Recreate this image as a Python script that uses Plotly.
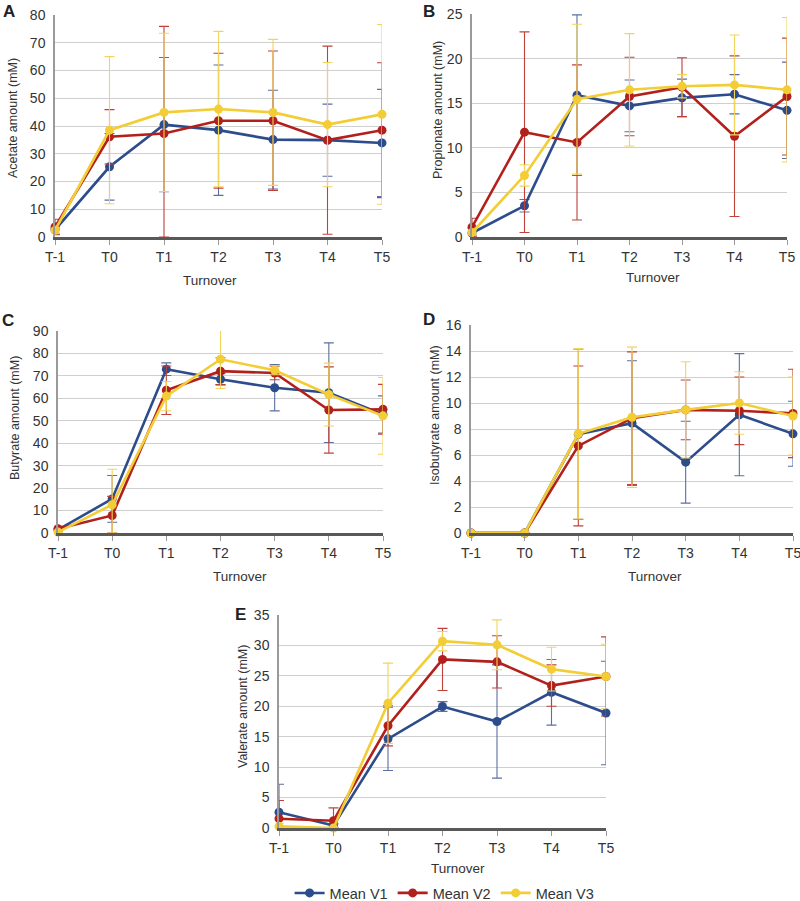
import plotly.graph_objects as go

cats = ["T-1", "T0", "T1", "T2", "T3", "T4", "T5"]
series_names = ["Mean V1", "Mean V2", "Mean V3"]

acetate_v1 = [2.6, 25.3, 40.5, 38.5, 35.1, 34.9, 33.9]
acetate_v2 = [3.6, 36.1, 37.3, 41.9, 41.9, 34.9, 38.5]
acetate_v3 = [2.4, 38.5, 44.9, 46.1, 44.9, 40.5, 44.2]
acetate_v1_err = [1.5, 12.0, 24.2, 23.5, 17.8, 13.0, 19.3]
acetate_v2_err = [2.8, 9.8, 38.6, 24.3, 25.1, 33.9, 24.3]
acetate_v3_err = [1.0, 26.5, 28.5, 28.0, 26.3, 22.4, 32.4]

propionate_v1 = [0.45, 3.5, 15.9, 14.7, 15.6, 16.0, 14.2]
propionate_v2 = [1.1, 11.75, 10.6, 15.75, 16.8, 11.3, 15.75]
propionate_v3 = [0.5, 6.9, 15.45, 16.5, 16.9, 17.05, 16.5]
propionate_v1_err = [0.3, 0.7, 9.0, 2.9, 2.1, 2.2, 5.4]
propionate_v2_err = [1.0, 11.25, 8.7, 4.4, 3.3, 9.0, 6.55]
propionate_v3_err = [0.3, 1.2, 8.4, 6.3, 1.3, 5.6, 8.1]

butyrate_v1 = [1.5, 15.2, 73.0, 68.5, 64.7, 62.5, 52.8]
butyrate_v2 = [1.9, 7.8, 63.6, 72.1, 71.3, 54.8, 55.1]
butyrate_v3 = [0.4, 12.6, 61.0, 77.4, 72.5, 61.7, 52.2]
butyrate_v1_err = [0.8, 10.4, 2.8, 2.5, 10.3, 22.2, 8.3]
butyrate_v2_err = [1.1, 8.5, 10.8, 6.0, 3.0, 19.2, 11.1]
butyrate_v3_err = [0.5, 15.8, 6.5, 13.0, 2.0, 14.0, 17.1]

isobutyrate_v1 = [0, 0, 7.6, 8.45, 5.45, 9.1, 7.63]
isobutyrate_v2 = [0, 0, 6.7, 8.83, 9.47, 9.4, 9.2]
isobutyrate_v3 = [0, 0, 7.63, 8.9, 9.47, 10.0, 9.0]
isobutyrate_v1_err = [0, 0, 6.55, 4.8, 3.15, 4.7, 2.5]
isobutyrate_v2_err = [0, 0, 6.15, 5.1, 2.3, 2.6, 3.4]
isobutyrate_v3_err = [0, 0, 6.55, 5.4, 3.7, 2.4, 3.0]

valerate_v1 = [2.6, 0.4, 14.65, 19.96, 17.5, 22.3, 18.9]
valerate_v2 = [1.53, 1.2, 16.8, 27.7, 27.3, 23.4, 24.9]
valerate_v3 = [0.27, 0.0, 20.5, 30.7, 30.1, 26.1, 24.9]
valerate_v1_err = [4.6, 0.3, 5.2, 0.8, 9.3, 5.4, 8.5]
valerate_v2_err = [3.0, 2.1, 3.3, 5.1, 4.3, 3.4, 6.5]
valerate_v3_err = [0.5, 0.0, 6.6, 1.6, 4.1, 3.6, 5.3]

line_colors = ["#2C4C8C", "#B2201C", "#F3CD35"]
err_colors = ["#5B6FA3", "#C0413A", "#F2D45C"]

W, H = 800, 901

panels = [
    dict(letter="A", title="Acetate amount (mM)", ymax=80, dtick=10,
         data=[(acetate_v1, acetate_v1_err), (acetate_v2, acetate_v2_err), (acetate_v3, acetate_v3_err)],
         px=(55, 382), py=(15, 237), letter_pos=(9, 11), ytitle_pos=(13, 118), xtitle_pos=(210, 280)),
    dict(letter="B", title="Propionate amount (mM)", ymax=25, dtick=5,
         data=[(propionate_v1, propionate_v1_err), (propionate_v2, propionate_v2_err), (propionate_v3, propionate_v3_err)],
         px=(472, 787), py=(14, 237), letter_pos=(429, 11), ytitle_pos=(438, 110), xtitle_pos=(653, 277)),
    dict(letter="C", title="Butyrate amount (mM)", ymax=90, dtick=10,
         data=[(butyrate_v1, butyrate_v1_err), (butyrate_v2, butyrate_v2_err), (butyrate_v3, butyrate_v3_err)],
         px=(58, 383), py=(331, 533), letter_pos=(8, 320), ytitle_pos=(15, 418), xtitle_pos=(240, 576)),
    dict(letter="D", title="Isobutyrate amount (mM)", ymax=16, dtick=2,
         data=[(isobutyrate_v1, isobutyrate_v1_err), (isobutyrate_v2, isobutyrate_v2_err), (isobutyrate_v3, isobutyrate_v3_err)],
         px=(471, 793), py=(325, 533), letter_pos=(429, 319), ytitle_pos=(435, 415), xtitle_pos=(655, 576)),
    dict(letter="E", title="Valerate amount (mM)", ymax=35, dtick=5,
         data=[(valerate_v1, valerate_v1_err), (valerate_v2, valerate_v2_err), (valerate_v3, valerate_v3_err)],
         px=(279, 606), py=(615, 828), letter_pos=(240, 614), ytitle_pos=(243, 707), xtitle_pos=(458, 868)),
]

fig = go.Figure()
annotations = []
layout_axes = {}
FONT = "Liberation Sans, Arial, sans-serif"

for i, p in enumerate(panels):
    n = "" if i == 0 else str(i + 1)
    xa, ya = "x" + n, "y" + n
    for k, (vals, errs) in enumerate(p["data"]):
        minus = [min(e, v) for v, e in zip(vals, errs)]
        fig.add_trace(go.Scatter(
            x=cats, y=vals, xaxis=xa, yaxis=ya, mode="lines+markers",
            name=series_names[k], showlegend=(i == 0), legendgroup=series_names[k],
            line=dict(color=line_colors[k], width=2.6),
            marker=dict(color=line_colors[k], size=9, line=dict(width=0)),
            error_y=dict(type="data", symmetric=False, array=errs, arrayminus=minus,
                         color=err_colors[k], thickness=1.1, width=5),
            cliponaxis=False,
        ))
    x0, x1 = p["px"]
    yt, yb = p["py"]
    layout_axes["xaxis" + n] = dict(
        domain=[x0 / W, x1 / W], anchor=ya, type="category", categoryarray=cats,
        range=[0, 6], showgrid=False, showline=True, linecolor="#595959", linewidth=2.5,
        ticks="outside", ticklen=5, tickcolor="#9a9a9a", tickwidth=1, automargin=False,
        tickfont=dict(size=14, color="#333333", family=FONT), zeroline=False, fixedrange=True,
    )
    layout_axes["yaxis" + n] = dict(
        domain=[1 - yb / H, 1 - yt / H], anchor=xa, range=[0, p["ymax"]], dtick=p["dtick"],
        tick0=0, showgrid=True, gridcolor="#cfcfcf", gridwidth=1, showline=True,
        linecolor="#9a9a9a", linewidth=1.5, ticks="", zeroline=False, automargin=False,
        tickfont=dict(size=14, color="#333333", family=FONT), ticklabelstandoff=5,
        fixedrange=True,
    )
    lx, ly = p["letter_pos"]
    annotations.append(dict(text="<b>" + p["letter"] + "</b>", x=lx / W, y=1 - ly / H,
                            xref="paper", yref="paper", showarrow=False,
                            xanchor="center", yanchor="middle",
                            font=dict(size=17, color="#222222", family=FONT)))
    tx, ty = p["ytitle_pos"]
    annotations.append(dict(text=p["title"], x=tx / W, y=1 - ty / H, xref="paper", yref="paper",
                            showarrow=False, textangle=-90, xanchor="center", yanchor="middle",
                            font=dict(size=12.5, color="#333333", family=FONT)))
    sx, sy = p["xtitle_pos"]
    annotations.append(dict(text="Turnover", x=sx / W, y=1 - sy / H, xref="paper", yref="paper",
                            showarrow=False, xanchor="center", yanchor="middle",
                            font=dict(size=13.5, color="#333333", family=FONT)))

fig.update_layout(
    template="none",
    width=W, height=H, margin=dict(l=0, r=0, t=0, b=0, pad=0, autoexpand=False), autosize=False,
    paper_bgcolor="white", plot_bgcolor="white",
    font=dict(family=FONT, color="#333333"),
    annotations=annotations,
    showlegend=True,
    legend=dict(orientation="h", x=0.362, y=1 - 893 / H, xanchor="left", yanchor="middle",
                font=dict(size=14.5, color="#333333", family=FONT), itemclick=False,
                bgcolor="rgba(0,0,0,0)", borderwidth=0),
    **layout_axes,
)

fig.write_html("out.html", config={"displayModeBar": False},
               post_script="document.body.style.margin='0';document.body.style.overflow='hidden';")
